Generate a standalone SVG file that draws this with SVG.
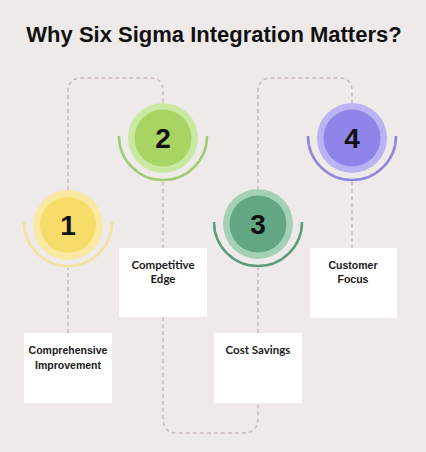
<svg xmlns="http://www.w3.org/2000/svg" width="426" height="452" viewBox="0 0 426 452">
<style>
.conn{fill:none;stroke:#cdb9ba;stroke-width:1.5;stroke-dasharray:4 3}
.box{fill:#ffffff}
.lbl{font-family:"Lato","Liberation Sans",sans-serif;font-weight:700;font-size:11.5px;fill:#1a1a1a;text-anchor:middle}
.lbl2{font-family:"Liberation Sans",Arial,sans-serif;font-weight:700;font-size:10.5px;fill:#1a1a1a;text-anchor:middle}
.num{font-family:"Liberation Sans",Arial,sans-serif;font-weight:700;font-size:28px;fill:#111;text-anchor:middle}
.arc{fill:none;stroke-width:2.5}
</style>
<rect width="426" height="452" fill="#eeeae9"/>
<text x="214" y="42" font-family="Liberation Sans, Arial, sans-serif" font-weight="700" font-size="22" fill="#111" text-anchor="middle">Why Six Sigma Integration Matters?</text>
<g id="connectors">
<path class="conn" d="M68,333 V268"/>
<path class="conn" d="M68,190 V92 Q68,78 82,78 H150 Q163,78 163,91 V103"/>
<path class="conn" d="M163,182 V248"/>
<path class="conn" d="M163,317 V418 Q163,433 178,433 H243 Q258,433 258,418 V403"/>
<path class="conn" d="M258,333 V268"/>
<path class="conn" d="M258,190 V92 Q258,78 272,78 H339 Q352,78 352,91 V103"/>
<path class="conn" d="M352,182 V248"/>
</g>
<g id="node1">
<circle cx="68" cy="225" r="35" fill="#f9e9a2"/>
<circle cx="68" cy="225" r="28" fill="#f6dc68"/>
<path class="arc" stroke="#f3e1a0" d="M24,222 A44,44 0 1 0 112,222"/>
<text class="num" x="68" y="235">1</text>
</g>
<g id="node2">
<circle cx="163" cy="138" r="35" fill="#c9e8a2"/>
<circle cx="163" cy="138" r="28.5" fill="#a8d464"/>
<path class="arc" stroke="#a0cc70" d="M119,136 A44,44 0 1 0 207,136"/>
<text class="num" x="163" y="148">2</text>
</g>
<g id="node3">
<circle cx="258" cy="224" r="35" fill="#a3d1b6"/>
<circle cx="258" cy="224" r="28.5" fill="#62a683"/>
<path class="arc" stroke="#5c9c7b" d="M214,222 A44,44 0 1 0 302,222"/>
<text class="num" x="258" y="234">3</text>
</g>
<g id="node4">
<circle cx="352" cy="138" r="35" fill="#bab4f3"/>
<circle cx="352" cy="138" r="28.5" fill="#8f84ea"/>
<path class="arc" stroke="#8f86dc" d="M308,136 A44,44 0 1 0 396,136"/>
<text class="num" x="352" y="148">4</text>
</g>
<g id="box1">
<rect class="box" x="24" y="333" width="88" height="70"/>
<text class="lbl2" x="68" y="354">Comprehensive</text>
<text class="lbl2" x="68" y="369">Improvement</text>
</g>
<g id="box2">
<rect class="box" x="119" y="248" width="88" height="69"/>
<text class="lbl" x="163" y="269">Competitive</text>
<text class="lbl" x="163" y="283">Edge</text>
</g>
<g id="box3">
<rect class="box" x="214" y="333" width="88" height="70"/>
<text class="lbl" x="258" y="354">Cost Savings</text>
</g>
<g id="box4">
<rect class="box" x="310" y="248" width="87" height="70"/>
<text class="lbl2" x="353" y="269">Customer</text>
<text class="lbl2" x="353" y="283">Focus</text>
</g>
</svg>
